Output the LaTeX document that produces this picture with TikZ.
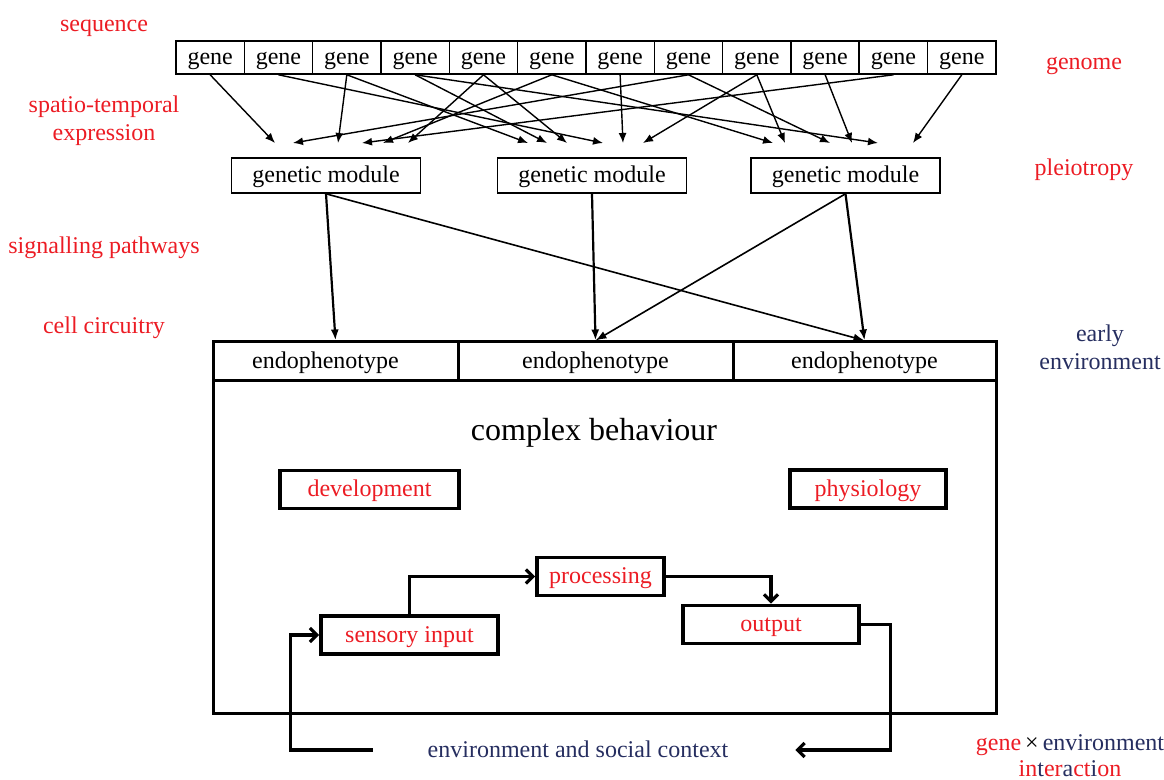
\documentclass[tikz,border=0pt]{standalone}
\usepackage{fontspec}
\setmainfont{Liberation Serif}
\usetikzlibrary{arrows.meta,positioning}
\definecolor{labelred}{RGB}{236,28,36}
\definecolor{envblue}{RGB}{38,46,96}

\begin{document}
\begin{tikzpicture}[x=0.5pt,y=-0.5pt,
      font=\fontsize{12}{14}\selectfont,
      oneline/.style={text height=1.6ex,text depth=0pt},
      gene/.style={
        % The shape:
        rectangle,minimum width=34.17pt,minimum height=16.5pt,inner sep=0pt,
        % The rest
        draw,line width=0.8pt,oneline},
      module/.style={rectangle,minimum width=94.5pt,minimum height=17.5pt,
        draw,line width=0.8pt,oneline},
      endo/.style={rectangle,minimum height=19.5pt,inner sep=0pt,
        draw,line width=1.5pt,oneline},
      redbox/.style={rectangle,minimum height=19pt,
        draw,line width=1.8pt,text=labelred,oneline},
      side/.style={text=labelred,align=center},
      geneline/.style={line width=0.7pt,-{Latex[length=5pt,width=4pt]}},
      modline/.style={line width=1.1pt,-{Latex[length=5.5pt,width=4pt]}},
      loopline/.style={line width=1.6pt,-{Straight Barb[length=3.5pt,width=7pt]}}]
    \useasboundingbox (0,0) rectangle (1164,780);
    % genome row
    \foreach \i in {1,...,12}
      \node(g\i)[gene] at ({176+68.33*(\i-0.5)},57.5){gene};
    \node(m1)[module] at (326,175.5){genetic module};
    \node(m2)[module] at (592,175.5){genetic module};
    \node(m3)[module] at (845.5,175.5){genetic module};
    % gene -> module
    \foreach \g/\x in {1/275,8/293,3/338,11/362,6/383,5/408,
                       3/528,4/547,5/567,2/603,7/623,9/643,
                       6/773,9/785,8/830,10/852,4/878,12/913}{
      \coordinate (tip) at (\x,143);
      \path (g\g.south) edge[geneline] (tip);
    }
    % complex behaviour
    \node(frame)[rectangle,draw,line width=1.5pt,minimum width=391.5pt,minimum height=186pt] at (604.5,528){};
    \node(e1)[endo,minimum width=122.5pt] at (335.5,361.5){endophenotype\kern10pt};
    \node(e2)[endo,minimum width=137.5pt] at (595.5,361.5){endophenotype};
    \node(e3)[endo,minimum width=131.5pt] at (864.5,361.5){endophenotype};
    \node(cb)[oneline,font=\fontsize{16}{19}\selectfont] at (594,433){complex behaviour};
    \node(dev)[redbox,minimum width=89.5pt] at (369.5,489.5){development};
    \node(phys)[redbox,minimum width=78pt] at (868,489){physiology};
    \node(proc)[redbox,minimum width=63.5pt] at (600.5,576.5){processing};
    \node(sens)[redbox,minimum width=88.5pt] at (409.5,635){sensory input};
    \node(out)[redbox,minimum width=88pt] at (771,624.5){output};
    \node(env)[text=envblue,oneline] at (578,750){environment and social context};
    % module -> endophenotype
    \path (m1.south) edge[modline] (e1.north);
    \path (m1.south) edge[modline,line width=0.8pt] (e3.north);
    \path (m2.south) edge[modline] (e2.north);
    \path (m3.south) edge[modline,line width=0.8pt] (e2.north);
    \path (m3.south) edge[modline] (e3.north);
    % behaviour loop
    \draw[loopline] (sens.north) |- (proc.west);
    \draw[loopline] (proc.east) -| (out.north);
    \draw[loopline] (out.east) -- ++(30,0) |- ([xshift=30pt]env.east);
    \draw[loopline] ([xshift=-24pt]env.west) -- ++(-82,0) |- (sens.west);
    % side labels
    \node(seq)[side,oneline] at (104,24){sequence};
    \node(ste)[side] at (104,121){spatio-temporal\\expression};
    \node(sig)[side,oneline] at (104,246){signalling pathways};
    \node(cell)[side,oneline] at (104,326){cell circuitry};
    \node(gen)[side,oneline] at (1084,62){genome};
    \node(plei)[side,oneline] at (1084,168){pleiotropy};
    \node(early)[align=center,text=envblue] at (1100,347){early\\environment};
    \node(gxe)[align=center,text=labelred] at (1070,756){gene\,{\color{black}×}\,{\color{envblue}environment}\\[-1pt]%
      in{\color{envblue}t}er{\color{envblue}a}ct{\color{envblue}i}on};
  \end{tikzpicture}
\end{document}
